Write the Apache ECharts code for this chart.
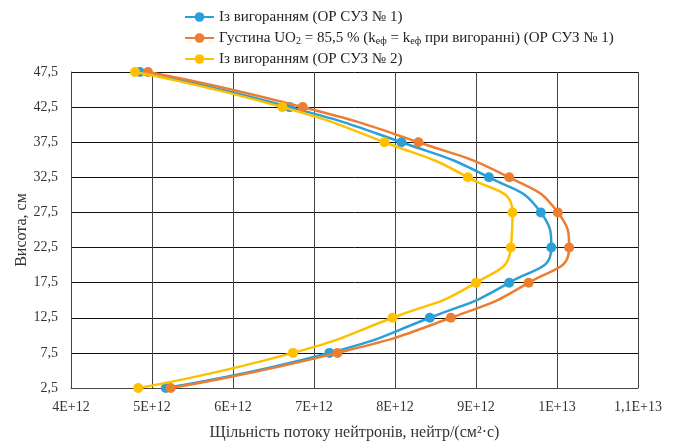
<!DOCTYPE html>
<html>
<head>
<meta charset="utf-8">
<script src="https://cdn.jsdelivr.net/npm/echarts@6/dist/echarts.min.js"></script>
<style>html,body{margin:0;padding:0;background:#fff}#c{width:677px;height:442px}</style>
</head>
<body>
<div id="c"></div>
<script>
// Heights (cm), bottom to top
var heights = ['2,5','7,5','12,5','17,5','22,5','27,5','32,5','37,5','42,5','47,5'];
// Flux values (neutrons/(cm2*s)), bottom to top
var burnupRod1 = [5.17e12, 7.19e12, 8.43e12, 9.41e12, 9.93e12, 9.80e12, 9.16e12, 8.08e12, 6.70e12, 4.85e12];
var densityRod1 = [5.23e12, 7.29e12, 8.69e12, 9.65e12, 10.15e12, 10.01e12, 9.41e12, 8.29e12, 6.86e12, 4.95e12];
var burnupRod2 = [4.83e12, 6.74e12, 7.97e12, 9.00e12, 9.43e12, 9.45e12, 8.90e12, 7.87e12, 6.61e12, 4.79e12];
var xTickLabels = ['4E+12','5E+12','6E+12','7E+12','8E+12','9E+12','1E+13','1,1E+13'];
var seriesNames = ['Із вигоранням (ОР СУЗ № 1)', 'Густина UO2 = 85,5 % (kеф = kеф при вигоранні) (ОР СУЗ № 1)', 'Із вигоранням (ОР СУЗ № 2)'];
var legendRich = [
  'Із вигоранням (ОР СУЗ № 1)',
  'Густина UO{sub|2} = 85,5 % (k{sub|еф} = k{sub|еф} при вигоранні) (ОР СУЗ № 1)',
  'Із вигоранням (ОР СУЗ № 2)'
];
var colors = ['#2A9FD8', '#ED7D31', '#FFC000'];

function pairs(arr){ return arr.map(function(v,i){ return [v, i]; }); }

var font = '"Liberation Serif", "DejaVu Serif", serif';
var chart = echarts.init(document.getElementById('c'));
var seriesData = [burnupRod1, densityRod1, burnupRod2];
chart.setOption({
  animation: false,
  color: colors,
  textStyle: {fontFamily: font},
  legend: {
    orient: 'vertical',
    left: 179, top: 4,
    itemWidth: 29, itemHeight: 12, itemGap: 5,
    data: seriesNames,
    formatter: function(name){ return legendRich[seriesNames.indexOf(name)]; },
    textStyle: {
      fontFamily: font, fontSize: 15, color: '#222', lineHeight: 16,
      rich: { sub: {fontFamily: font, fontSize: 10, lineHeight: 8, verticalAlign: 'bottom', color: '#222'} }
    }
  },
  grid: {left: 71, right: 39, top: 72, bottom: 54, containLabel: false, outerBoundsMode: 'none'},
  xAxis: {
    type: 'value', min: 4e12, max: 1.1e13, interval: 1e12,
    axisLine: {show: true, lineStyle: {color: '#444', width: 1}},
    axisTick: {show: false},
    splitLine: {show: true, lineStyle: {color: '#444', width: 1}},
    axisLabel: {
      fontFamily: font, fontSize: 14, color: '#333', margin: 12,
      formatter: function(v){ return xTickLabels[Math.round((v - 4e12) / 1e12)]; }
    },
    name: 'Щільність потоку нейтронів, нейтр/(см²·с)',
    nameLocation: 'middle', nameGap: 37, nameMoveOverlap: false,
    nameTextStyle: {fontFamily: font, fontSize: 16, color: '#333'}
  },
  yAxis: {
    type: 'category', data: heights, boundaryGap: false,
    axisLine: {show: true, lineStyle: {color: '#444', width: 1}},
    axisTick: {show: false},
    splitLine: {show: true, lineStyle: {color: '#111', width: 1}},
    axisLabel: {fontFamily: font, fontSize: 14, color: '#333', margin: 13},
    name: 'Висота, см', nameLocation: 'middle', nameGap: 41, nameMoveOverlap: false,
    nameTextStyle: {fontFamily: font, fontSize: 16, color: '#333'}
  },
  series: seriesData.map(function(d, i){
    return {
      name: seriesNames[i], type: 'line', data: pairs(d),
      smooth: 0.55, symbol: 'circle', symbolSize: 10,
      lineStyle: {width: 2.5, color: colors[i]},
      itemStyle: {color: colors[i]},
      z: 2 + i
    };
  })
});
</script>
</body>
</html>
